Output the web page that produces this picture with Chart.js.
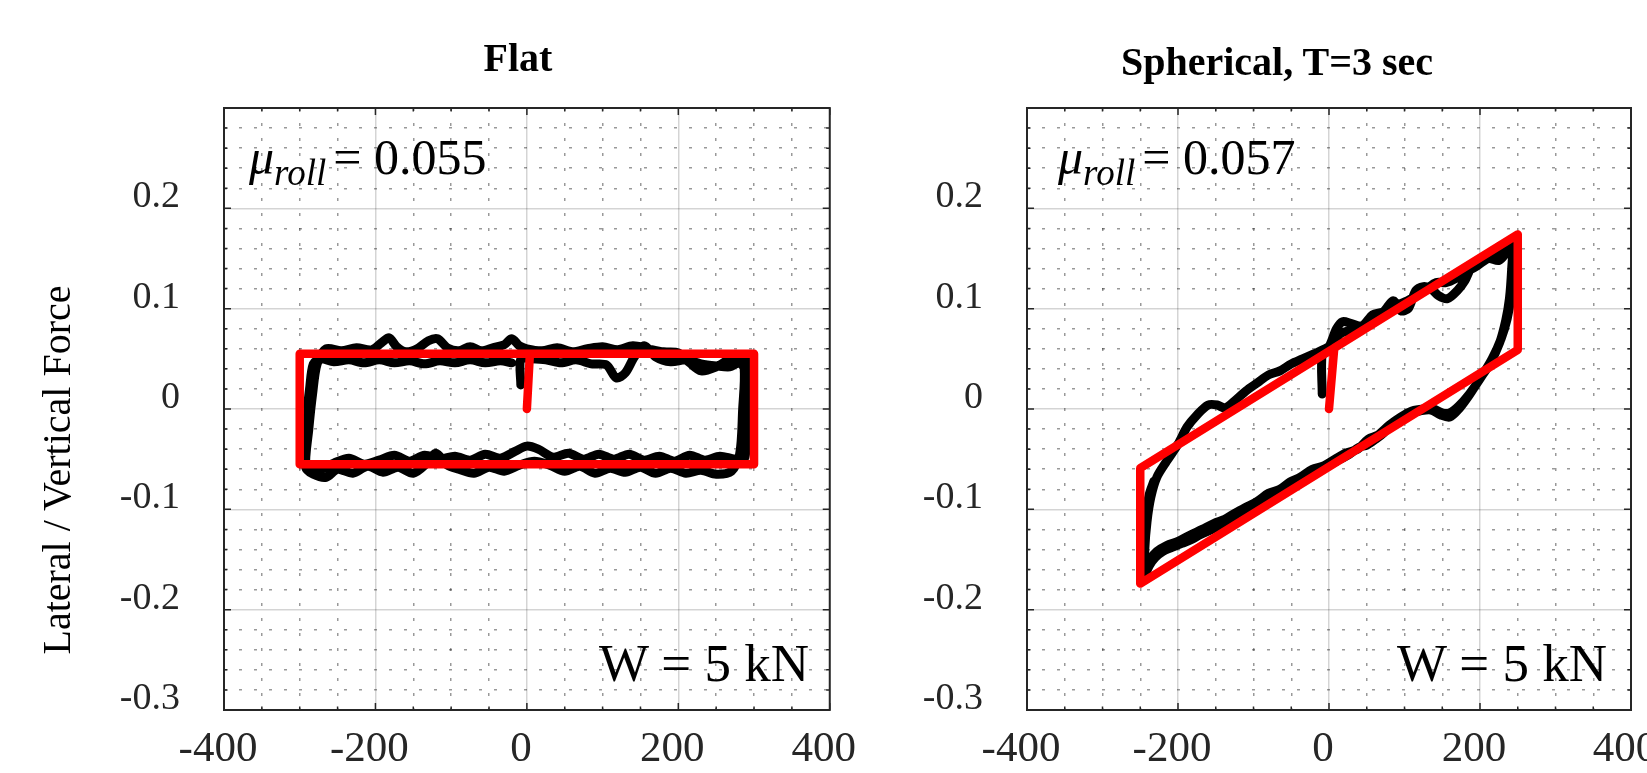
<!DOCTYPE html>
<html>
<head>
<meta charset="utf-8">
<script src="https://cdn.jsdelivr.net/npm/chart.js@4.4.1/dist/chart.umd.min.js"></script>
<style>
  html, body { margin: 0; padding: 0; overflow: hidden; background: #fff; }
  body { width: 1647px; height: 773px; position: relative; font-family: "Liberation Serif", "Times New Roman", serif; color: #000; }
  .plot { position: absolute; top: 0; height: 773px; }
  .txt { position: absolute; white-space: nowrap; line-height: 1; }
  .title { font-weight: bold; font-size: 40px; width: 600px; text-align: center; }
  .mu { font-size: 50px; }
  .mu i { font-style: italic; }
  .mu .sub { font-style: italic; font-size: 37px; position: relative; top: 11px; margin-right: 7px; }
  .w { font-size: 53px; width: 400px; text-align: right; }
  .ylab { font-size: 40px; width: 600px; height: 40px; text-align: center; transform: rotate(-90deg); }
</style>
</head>
<body>

<div class="plot" id="wrapFlat" style="left:0px; width:880px;"><canvas id="flatChart"></canvas></div>
<div class="plot" id="wrapSph" style="left:880px; width:820px;"><canvas id="sphChart"></canvas></div>

<div class="txt title" style="left:218px; top:37.5px;">Flat</div>
<div class="txt title" style="left:977px; top:41.5px;">Spherical, T=3 sec</div>

<div class="txt mu" style="left:249px; top:132px;"><i>μ</i><span class="sub">roll</span>= 0.055</div>
<div class="txt mu" style="left:1058px; top:132px;"><i>μ</i><span class="sub">roll</span>= 0.057</div>

<div class="txt w" style="left:409px; top:636.6px;">W = 5 kN</div>
<div class="txt w" style="left:1207px; top:636.6px;">W = 5 kN</div>

<div class="txt ylab" style="left:-243.5px; top:450px;">Lateral / Vertical Force</div>

<script>
// Axis ticks
const xTickValues = [-400, -200, 0, 200, 400];
const xTickLabels = ["-400", "-200", "0", "200", "400"];
const yTickValues = [-0.3, -0.2, -0.1, 0, 0.1, 0.2];
const yTickLabels = ["-0.3", "-0.2", "-0.1", "0", "0.1", "0.2"];

// Flat: model (red)
const flatModelX = [0, 4, 300, 300, -300, -300, 300];
const flatModelY = [0, 0.055, 0.055, -0.055, -0.055, 0.055, 0.055];

// Flat: test (black)
const flatTestX = [-8, -8, 5, 25, 45, 65, 85, 105, 118, 130, 142, 155, 170, 190, 210, 230, 250, 268, 280, 287, 285, 281,
    270, 250, 230, 210, 190, 170, 150, 130, 110, 90, 70, 50, 30, 10, -10, -30, -50, -70, -90, -105, -120, -132, -150, -170, -190, -210, -230, -250, -265, -282, -292,
    -288, -283, -277,
    -265, -245, -225, -205, -192, -182, -172, -160, -145, -130, -118, -105, -90, -75, -60, -45, -30, -20, -10, 0, 20, 40, 60, 80, 100, 120, 140, 160, 180, 200, 215, 230, 250, 268, 282, 290,
    290, 288,
    275, 255, 235, 215, 195, 175, 155, 135, 115, 95, 75, 55, 35, 15, 0, -15, -35, -55, -75, -95, -115, -135, -155, -175, -195, -215, -235, -255, -272, -288, -295,
    -292, -287, -282, -272, -255,
    -235, -215, -195, -175, -155, -135, -115, -95, -75, -55, -35, -20];
const flatTestY = [0.024, 0.050, 0.050, 0.049, 0.046, 0.049, 0.045, 0.044, 0.031, 0.036, 0.052, 0.063, 0.052, 0.047, 0.049, 0.045, 0.043, 0.042, 0.046, 0.040, 0.000, -0.045,
    -0.062, -0.065, -0.061, -0.064, -0.059, -0.064, -0.058, -0.063, -0.059, -0.064, -0.057, -0.062, -0.056, -0.052, -0.056, -0.062, -0.058, -0.064, -0.060, -0.056, -0.044, -0.054, -0.064, -0.058, -0.063, -0.057, -0.064, -0.060, -0.068, -0.065, -0.058,
    -0.020, 0.015, 0.045,
    0.060, 0.058, 0.061, 0.059, 0.066, 0.071, 0.062, 0.057, 0.060, 0.068, 0.070, 0.061, 0.058, 0.062, 0.058, 0.061, 0.064, 0.070, 0.063, 0.060, 0.058, 0.061, 0.057, 0.060, 0.062, 0.059, 0.063, 0.060, 0.057, 0.056, 0.046, 0.038, 0.042, 0.050, 0.054, 0.048,
    0.000, -0.048,
    -0.050, -0.047, -0.051, -0.046, -0.052, -0.047, -0.051, -0.045, -0.050, -0.045, -0.050, -0.044, -0.048, -0.040, -0.037, -0.042, -0.049, -0.045, -0.051, -0.047, -0.050, -0.046, -0.052, -0.046, -0.051, -0.055, -0.049, -0.054, -0.060, -0.058, -0.050,
    -0.015, 0.020, 0.045, 0.050, 0.047,
    0.049, 0.046, 0.049, 0.046, 0.048, 0.045, 0.048, 0.046, 0.049, 0.046, 0.048, 0.046];

// Spherical: model (red)
const sphModelX = [0, 7, 250, 250, -250, -250, 250];
const sphModelY = [0, 0.061, 0.174, 0.059, -0.174, -0.059, 0.174];

// Spherical: test (black)
const sphTestX = [-9, -9, 0, 10, 18, 30, 44, 58, 72, 85, 95, 105, 115, 125, 135, 145, 157, 170, 180, 188, 200, 212, 225, 235, 243,
    242, 239, 234, 226, 213, 198, 185, 172, 160, 148, 135, 120,
    110, 95, 85, 72, 62, 50, 40, 25, 10, -5, -20, -35, -45, -60, -72, -85, -100, -115, -128, -140, -155, -170, -182, -195, -208, -220, -230, -238, -244,
    -244, -241, -236, -228, -215, -200, -188, -175, -160, -148, -138, -125, -110, -95, -80, -65, -50, -35, -20, -5, 5,
    15, 28, 40, 55, 70, 82, 92, 104, 118, 130, 142, 155, 168, 180, 195, 210, 225, 238, 245,
    244, 241, 236, 228, 216, 200, 186, 172, 160, 150, 138, 125,
    110, 95, 80, 65, 52, 38, 22, 8, -8, -22, -38, -52, -65, -80, -95, -110, -125, -138, -152, -168, -185, -200, -215, -228, -237, -243, -246,
    -246, -243, -238, -232];
const sphTestY = [0.015, 0.055, 0.062, 0.080, 0.087, 0.085, 0.083, 0.094, 0.097, 0.108, 0.098, 0.100, 0.118, 0.122, 0.120, 0.113, 0.110, 0.118, 0.128, 0.140, 0.146, 0.150, 0.148, 0.156, 0.165,
    0.140, 0.110, 0.088, 0.066, 0.045, 0.028, 0.013, 0.000, -0.008, -0.006, -0.001, -0.002,
    -0.004, -0.010, -0.014, -0.024, -0.030, -0.036, -0.038, -0.046, -0.052, -0.058, -0.062, -0.068, -0.076, -0.082, -0.085, -0.088, -0.097, -0.102, -0.108, -0.114, -0.120, -0.125, -0.130, -0.134, -0.138, -0.142, -0.148, -0.156, -0.165,
    -0.140, -0.112, -0.088, -0.068, -0.052, -0.035, -0.018, -0.006, 0.004, 0.004, 0.001, 0.008, 0.018, 0.026, 0.034, 0.038, 0.045, 0.050, 0.055, 0.060, 0.065,
    0.075, 0.078, 0.078, 0.088, 0.094, 0.100, 0.104, 0.108, 0.114, 0.120, 0.126, 0.126, 0.130, 0.136, 0.142, 0.150, 0.155, 0.160, 0.166,
    0.140, 0.112, 0.090, 0.070, 0.050, 0.030, 0.015, 0.003, -0.004, -0.004, 0.000, 0.000,
    -0.002, -0.008, -0.016, -0.026, -0.030, -0.040, -0.044, -0.050, -0.057, -0.060, -0.068, -0.073, -0.080, -0.084, -0.092, -0.098, -0.104, -0.110, -0.114, -0.120, -0.126, -0.132, -0.136, -0.142, -0.150, -0.160, -0.168,
    -0.140, -0.110, -0.085, -0.072];

const MAJOR_GRID = "rgba(0,0,0,0.17)";
const MINOR_GRID = "rgba(0,0,0,0.4)";
const AXIS_COLOR = "#262626";
const FONT = "'Liberation Serif', 'Times New Roman', serif";

function toPoints(xs, ys) {
    return xs.map((x, i) => ({ x: x, y: ys[i] }));
}

function onGrid(v, step) {
    const r = v / step;
    return Math.abs(r - Math.round(r)) < 1e-6;
}

// box round the plot area, ticks pointing inwards
const framePlugin = {
    id: "frame",
    afterDatasetsDraw(chart) {
        const { ctx, chartArea: a, scales } = chart;
        ctx.save();
        ctx.strokeStyle = AXIS_COLOR;
        ctx.lineWidth = 1.5;
        ctx.beginPath();
        scales.x2.ticks.forEach(t => {
            const p = scales.x2.getPixelForValue(t.value);
            const len = onGrid(t.value, 200) ? 7 : 3.5;
            ctx.moveTo(p, a.bottom); ctx.lineTo(p, a.bottom - len);
            ctx.moveTo(p, a.top); ctx.lineTo(p, a.top + len);
        });
        scales.y2.ticks.forEach(t => {
            const p = scales.y2.getPixelForValue(t.value);
            const len = onGrid(t.value, 0.1) ? 7 : 3.5;
            ctx.moveTo(a.left, p); ctx.lineTo(a.left + len, p);
            ctx.moveTo(a.right, p); ctx.lineTo(a.right - len, p);
        });
        ctx.stroke();
        ctx.lineWidth = 2;
        ctx.strokeRect(a.left, a.top, a.right - a.left, a.bottom - a.top);
        ctx.restore();
    }
};

function makeChart(canvasId, testX, testY, modelX, modelY, yAxisWidth, padRight) {
    const ctx = document.getElementById(canvasId).getContext("2d");
    return new Chart(ctx, {
        type: "scatter",
        data: {
            // first dataset is drawn on top, so the model line comes first
            datasets: [
                {
                    label: "Model",
                    data: toPoints(modelX, modelY),
                    showLine: true,
                    borderColor: "#ff0000",
                    borderWidth: 8.5,
                    pointRadius: 0,
                    tension: 0,
                    borderJoinStyle: "round",
                    borderCapStyle: "round"
                },
                {
                    label: "Test",
                    data: toPoints(testX, testY),
                    showLine: true,
                    borderColor: "#000000",
                    borderWidth: 9,
                    pointRadius: 0,
                    tension: 0.3,
                    borderJoinStyle: "round",
                    borderCapStyle: "round"
                }
            ]
        },
        options: {
            responsive: true,
            maintainAspectRatio: false,
            animation: false,
            events: [],
            layout: { padding: { left: 0, top: 108, right: padRight, bottom: 0 } },
            plugins: {
                legend: { display: false },
                tooltip: { enabled: false }
            },
            scales: {
                x: {
                    type: "linear",
                    position: "bottom",
                    min: -400,
                    max: 400,
                    afterBuildTicks: s => { s.ticks = xTickValues.map(v => ({ value: v })); },
                    afterFit: s => { s.height = 59; },
                    grid: { color: MAJOR_GRID, lineWidth: 1.5, drawTicks: false },
                    border: { display: false },
                    ticks: {
                        autoSkip: false,
                        maxRotation: 0,
                        padding: 18,
                        labelOffset: -6,
                        color: AXIS_COLOR,
                        font: { family: FONT, size: 43, lineHeight: 1 },
                        callback: (v, i) => xTickLabels[i]
                    }
                },
                y: {
                    type: "linear",
                    position: "left",
                    min: -0.3,
                    max: 0.3,
                    afterBuildTicks: s => { s.ticks = yTickValues.map(v => ({ value: v })); },
                    afterFit: s => { s.width = yAxisWidth; },
                    grid: { color: MAJOR_GRID, lineWidth: 1.5, drawTicks: false },
                    border: { display: false },
                    ticks: {
                        autoSkip: false,
                        padding: 44,
                        labelOffset: -11,
                        color: AXIS_COLOR,
                        font: { family: FONT, size: 38, lineHeight: 1 },
                        callback: (v, i) => yTickLabels[i]
                    }
                },
                // minor grid, dotted
                x2: {
                    type: "linear",
                    position: "bottom",
                    min: -400,
                    max: 400,
                    afterFit: s => { s.height = 0; },
                    grid: {
                        color: c => onGrid(c.tick.value, 200) ? "rgba(0,0,0,0)" : MINOR_GRID,
                        lineWidth: 1.5,
                        drawTicks: false
                    },
                    border: { display: false, dash: [3, 12] },
                    ticks: { display: false, stepSize: 50, autoSkip: false }
                },
                y2: {
                    type: "linear",
                    position: "left",
                    min: -0.3,
                    max: 0.3,
                    afterFit: s => { s.width = 0; },
                    grid: {
                        color: c => onGrid(c.tick.value, 0.1) ? "rgba(0,0,0,0)" : MINOR_GRID,
                        lineWidth: 1.5,
                        drawTicks: false
                    },
                    border: { display: false, dash: [3, 12] },
                    ticks: { display: false, stepSize: 0.02, autoSkip: false }
                }
            }
        },
        plugins: [framePlugin]
    });
}

const flatChart = makeChart("flatChart", flatTestX, flatTestY, flatModelX, flatModelY, 224, 49);
const sphChart = makeChart("sphChart", sphTestX, sphTestY, sphModelX, sphModelY, 147, 69);
</script>
</body>
</html>
